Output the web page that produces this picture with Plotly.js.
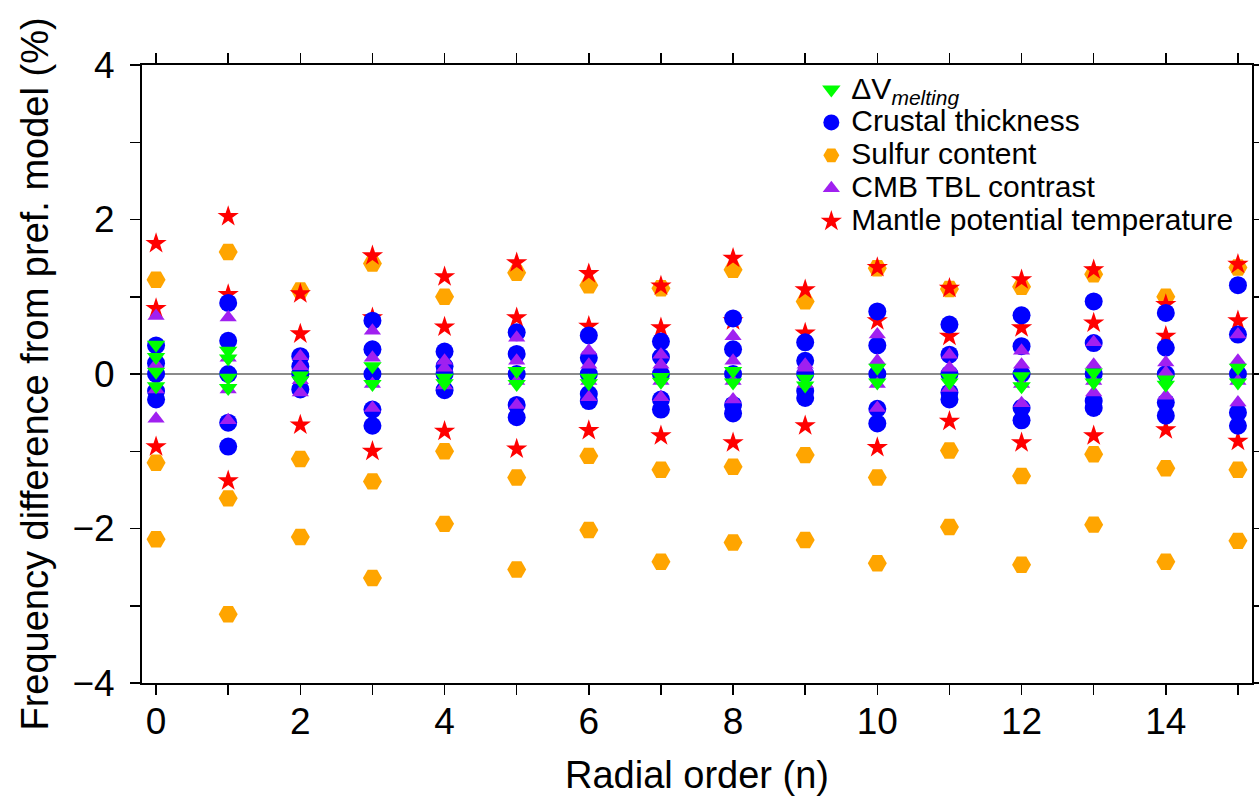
<!DOCTYPE html>
<html>
<head>
<meta charset="utf-8">
<script src="https://cdn.plot.ly/plotly-3.0.1.min.js"></script>
<style>html,body{margin:0;padding:0;background:#fff;}#chart{width:1259px;height:805px;}</style>
</head>
<body>
<div id="chart"></div>
<script>
// Radial order (categories)
const radialOrder = [0,1,2,3,4,5,6,7,8,9,10,11,12,13,14,15];

// Series values: one list of frequency differences (%) per radial order
const dvMelting = [
  [0.38, 0.22, 0.03, -0.16],
  [0.30, 0.20, -0.05, -0.18],
  [-0.02, -0.08],
  [0.10, -0.13],
  [-0.05, -0.12],
  [0.04, -0.13],
  [-0.05, -0.12],
  [-0.04, -0.10],
  [0.04, -0.11],
  [-0.06, -0.15],
  [0.08, -0.11],
  [-0.05, -0.11],
  [-0.03, -0.16],
  [0.02, -0.11],
  [-0.07, -0.14],
  [0.08, -0.11]
];
const crustalThickness = [
  [0.37, 0.14, 0, -0.22, -0.33],
  [0.92, 0.43, 0, -0.63, -0.94],
  [0.23, 0.10, 0, -0.20],
  [0.69, 0.32, 0, -0.46, -0.67],
  [0.29, 0.10, 0, -0.21],
  [0.54, 0.26, 0, -0.40, -0.56],
  [0.50, 0.21, 0, -0.26, -0.35],
  [0.42, 0.22, 0, -0.33, -0.46],
  [0.72, 0.32, 0, -0.40, -0.51],
  [0.41, 0.17, 0, -0.22, -0.31],
  [0.81, 0.37, 0, -0.45, -0.64],
  [0.64, 0.25, 0, -0.24, -0.33],
  [0.76, 0.36, 0, -0.44, -0.60],
  [0.94, 0.40, 0, -0.35, -0.44],
  [0.79, 0.34, 0, -0.37, -0.54],
  [1.15, 0.51, 0, -0.50, -0.67]
];
const sulfurContent = [
  [1.22, -1.15, -2.14],
  [1.58, -1.61, -3.11],
  [1.08, -1.10, -2.11],
  [1.43, -1.39, -2.64],
  [1.00, -1.00, -1.94],
  [1.31, -1.34, -2.53],
  [1.15, -1.06, -2.02],
  [1.11, -1.24, -2.43],
  [1.35, -1.20, -2.18],
  [0.94, -1.05, -2.15],
  [1.37, -1.34, -2.45],
  [1.10, -0.99, -1.98],
  [1.13, -1.32, -2.47],
  [1.29, -1.04, -1.95],
  [1.00, -1.22, -2.43],
  [1.38, -1.24, -2.16]
];
const cmbTblContrast = [
  [0.75, 0.12, -0.20, -0.58],
  [0.73, 0.21, -0.20, -0.60],
  [0.23, 0.10, -0.08, -0.24],
  [0.56, 0.21, -0.13, -0.44],
  [0.17, 0.08, -0.15],
  [0.47, 0.17, -0.09, -0.40],
  [0.30, 0.12, -0.09, -0.30],
  [0.25, 0.12, -0.09, -0.30],
  [0.49, 0.17, -0.09, -0.33],
  [0.12, 0.08, -0.13],
  [0.51, 0.17, -0.13, -0.44],
  [0.25, 0.08, -0.18],
  [0.30, 0.12, -0.13, -0.38],
  [0.41, 0.12, -0.09, -0.24],
  [0.15, 0.02, -0.28],
  [0.51, 0.17, -0.09, -0.37]
];
const mantleTemperature = [
  [1.69, 0.85, -0.94],
  [2.04, 1.03, -1.38],
  [1.04, 0.52, -0.66],
  [1.53, 0.73, -1.00],
  [1.26, 0.61, -0.74],
  [1.44, 0.73, -0.97],
  [1.30, 0.62, -0.73],
  [1.14, 0.60, -0.80],
  [1.50, 0.69, -0.89],
  [1.09, 0.53, -0.67],
  [1.38, 0.69, -0.95],
  [1.11, 0.49, -0.61],
  [1.22, 0.60, -0.89],
  [1.35, 0.66, -0.80],
  [0.90, 0.49, -0.72],
  [1.42, 0.69, -0.87]
];

// Tick labels (labelled major ticks; unlabelled minor ticks every 1 unit)
const xTickVals = [0,2,4,6,8,10,12,14];
const xTickText = ['0','2','4','6','8','10','12','14'];
const yTickVals = [-4,-2,0,2,4];
const yTickText = ['\u22124','\u22122','0','2','4'];

function flatten(series) {
  const x = [], y = [];
  series.forEach((vals, i) => vals.forEach(v => { x.push(radialOrder[i]); y.push(v); }));
  return {x, y};
}

const FONT = '"Liberation Sans", Arial, Helvetica, sans-serif';
const LS = s => '<span style="font-size:30px">' + s + '</span>';

function trace(series, name, symbol, color, size, rank) {
  const d = flatten(series);
  return {
    type: 'scatter', mode: 'markers', x: d.x, y: d.y, name: name,
    legendrank: rank,
    marker: {symbol: symbol, color: color, size: size, line: {width: 0}},
    hoverinfo: 'x+y+name'
  };
}

const data = [
  trace(sulfurContent, LS('Sulfur content'), 'hexagon2', '#ffa500', 19, 3),
  trace(mantleTemperature, LS('Mantle potential temperature'), 'star', '#ff0000', 16, 5),
  trace(crustalThickness, LS('Crustal thickness'), 'circle', '#0000ff', 18, 2),
  trace(cmbTblContrast, LS('CMB TBL contrast'), 'triangle-up', '#a020f0', 15, 4),
  trace(dvMelting, LS('\u0394V<sub><i>melting</i></sub>'), 'triangle-down', '#00ff00', 16, 1)
];

const axisCommon = {
  showline: true, linecolor: '#000', linewidth: 2, mirror: 'ticks',
  ticks: 'outside', ticklen: 10, tickwidth: 1.5, tickcolor: '#000',
  showgrid: false, tickfont: {family: FONT, size: 37, color: '#000'},
  tickmode: 'array',
  minor: {tickmode: 'linear', tick0: 0, dtick: 1, ticks: 'outside', ticklen: 10, tickwidth: 1.5, tickcolor: '#000', showgrid: false}
};

const layout = {
  width: 1259, height: 805,
  margin: {l: 142, r: 7, t: 65, b: 122, pad: 0},
  paper_bgcolor: '#fff', plot_bgcolor: '#fff',
  font: {family: FONT, color: '#000'},
  showlegend: true,
  legend: {
    x: 0.603, y: 0.995, xanchor: 'left', yanchor: 'top',
    font: {family: FONT, size: 23, color: '#000'},
    bgcolor: 'rgba(255,255,255,0)', borderwidth: 0,
    traceorder: 'normal'
  },
  xaxis: Object.assign({}, axisCommon, {
    range: [-0.195, 15.195], tickvals: xTickVals, ticktext: xTickText,
    zeroline: false, ticklabelstandoff: -5,
    title: {text: 'Radial order (n)', font: {family: FONT, size: 38, color: '#000'}, standoff: 20}
  }),
  yaxis: Object.assign({}, axisCommon, {
    range: [-4, 4], tickvals: yTickVals, ticktext: yTickText,
    zeroline: true, zerolinecolor: '#8c8c8c', zerolinewidth: 1.5,
    ticklabelstandoff: 8,
    title: {text: 'Frequency difference from pref. model (%)', font: {family: FONT, size: 38, color: '#000'}, standoff: 12}
  })
};

Plotly.newPlot('chart', data, layout, {displayModeBar: false, staticPlot: true});
</script>
</body>
</html>
